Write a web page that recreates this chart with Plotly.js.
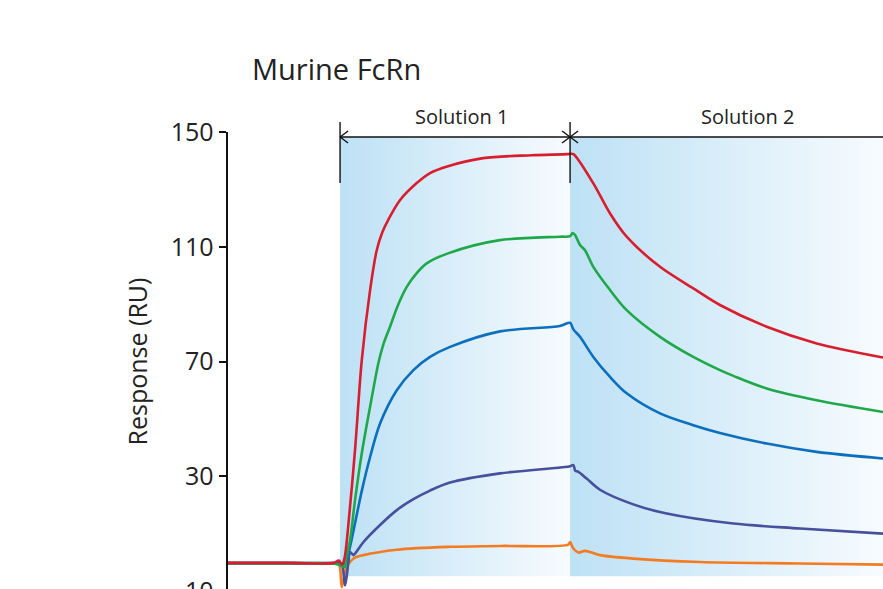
<!DOCTYPE html>
<html><head><meta charset="utf-8">
<script src="https://cdn.plot.ly/plotly-3.0.1.min.js"></script>
<style>html,body{margin:0;padding:0;overflow:hidden;background:#fff}#chart{width:883px;height:631px}</style>
</head><body><div id="chart"></div>
<script>
// ---- data ----
const chartTitle = 'Murine FcRn';
const yTitle = 'Response (RU)';
const yTicks = [-10, 30, 70, 110, 150];
const phaseNames = ['Solution 1', 'Solution 2'];
const phaseStart = [0, 180];
const phaseEnd = [180, 425];
const phaseLabelT = [95, 318.5];

const redT = [-88, -40, -5, -1, 1.5, 3.5, 6.3, 11.7, 17, 23.5, 28.7, 33, 37.6, 47, 60, 70.4, 84.5, 112, 150, 178, 180, 182.6, 198.2, 211.3, 224.3, 250.4, 276.4, 297.3, 333.9, 373, 425];
const redY = [-0.2, -0.2, -0.2, 0.6, -0.8, 1.5, 12.2, 39.1, 70.5, 94.9, 108.8, 115, 119.3, 126.3, 132.2, 135.7, 138.1, 140.9, 141.9, 142.3, 142.4, 142.3, 132.1, 121.6, 113.5, 103.0, 95.5, 89.7, 82.1, 76.3, 71.4];

const greenT = [-88, -40, -5, 0, 3.9, 4.7, 7.8, 11.7, 17, 23.5, 30, 33.9, 39.1, 45, 52.2, 60, 67.8, 84.5, 125, 172, 180, 182, 183.9, 187.8, 191.7, 198.2, 211.3, 224.3, 250.4, 276.4, 297.3, 307.8, 333.9, 373, 425];
const greenY = [-0.3, -0.3, -0.4, -1.0, -1.6, 1.4, 7.7, 21.6, 38.0, 54.2, 69.5, 76.0, 82.1, 89.3, 96.0, 100.8, 104.2, 107.7, 112.3, 113.5, 113.7, 114.8, 114.1, 110.6, 108.8, 103.0, 94.9, 87.9, 78.6, 71.6, 67.0, 65.0, 60.6, 56.5, 52.4];

const blueT = [-88, -40, -5, -1, 1.3, 3.5, 5.2, 7.8, 11.7, 17, 23.5, 31.3, 44.4, 57.4, 70.4, 86.1, 125.2, 172.1, 180, 182.6, 187.8, 198.2, 211.3, 224.3, 250.4, 276.4, 297.3, 333.9, 373, 425];
const blueY = [-0.3, -0.3, -0.3, -0.2, -1.2, -0.5, 1.0, 5.4, 13.6, 24.9, 36.7, 48.4, 60.0, 67.0, 71.6, 75.1, 80.5, 82.4, 83.5, 81.2, 78.6, 71.6, 64.6, 58.9, 51.9, 47.8, 45.1, 41.4, 38.5, 36.2];

const purpleT = [-88, -40, -5, 1, 3.9, 6.5, 7.8, 10.4, 11.7, 18.2, 31.3, 44.4, 57.4, 70.4, 86.1, 125.2, 176, 180, 182.6, 184, 186.5, 193, 203.4, 229.5, 255.6, 307.8, 360, 425];
const purpleY = [-0.3, -0.3, -0.3, -0.5, -8.0, 0, 3.6, 2.5, 3.0, 7.0, 13.0, 18.2, 22.0, 25.0, 27.8, 31.0, 33.2, 33.5, 33.9, 32.0, 31.5, 29.2, 25.3, 20.2, 17.0, 13.5, 11.8, 10.0];

const orangeT = [-88, -40, -5.5, -1, 1.3, 4.7, 7.8, 11, 18.2, 44.4, 86.1, 125.2, 178.6, 180, 182.6, 186.5, 191.7, 203.4, 229.5, 281.7, 360, 425];
const orangeY = [-0.4, -0.4, -0.5, -0.6, -8.6, -2.1, 0.1, 1.5, 2.5, 4.4, 5.4, 5.7, 6.2, 7.1, 4.8, 3.4, 4.0, 2.5, 1.3, 0.1, -0.4, -0.8];

// ---- layout constants ----
const W = 883, H = 631;
const M = {l: 228, r: 0, t: 132, b: 40};
const plotW = W - M.l - M.r, plotH = H - M.t - M.b;
const xRange = [-87.7, 424.9];
const yRange = [-10, 150];
const shadeBottom = -4.9, shadeTop = 148.3;
const pxPerT = plotW / (xRange[1] - xRange[0]);
const pY = p => (M.t + plotH - p) / plotH;   // pixel row -> paper y

const FONT = '"Open Sans", "Noto Sans", sans-serif';

const traces = [];
// shaded phases with horizontal gradient
for (let i = 0; i < phaseNames.length; i++) {
  const a = phaseStart[i], b = phaseEnd[i];
  traces.push({
    type: 'scatter', mode: 'lines', x: [a, b, b, a, a], y: [shadeBottom, shadeBottom, shadeTop, shadeTop, shadeBottom],
    fill: 'toself', line: {width: 0}, hoverinfo: 'skip', showlegend: false,
    fillgradient: {type: 'horizontal', colorscale: [[0, '#bde1f5'], [1, '#f7fbfe']]}
  });
}
const series = [
  ['orange', orangeT, orangeY, '#f47b20'],
  ['purple', purpleT, purpleY, '#46509d'],
  ['blue', blueT, blueY, '#0b6fbe'],
  ['green', greenT, greenY, '#1fa84a'],
  ['red', redT, redY, '#d81e2e']
];
series.forEach(([n, t, y, c]) => traces.push({
  type: 'scatter', mode: 'lines', name: n, x: t, y: y,
  line: {color: c, width: 2.6, shape: 'spline', smoothing: 0.9}, showlegend: false
}));

// arrow decorations
const shapes = [];
const ln = (x0, y0, x1, y1) => shapes.push({type: 'line', xref: 'x', yref: 'paper', x0, y0, x1, y1, line: {color: '#111', width: 1.4}});
const arrowY = pY(137), vTop = pY(122), vBot = pY(183);
const cdx = 8 / pxPerT, cdy = 6 / plotH;
ln(phaseStart[0], arrowY, xRange[1] + 5, arrowY);
phaseStart.forEach(s => ln(s, vTop, s, vBot));
// left chevron at start of each phase (pointing left)
phaseStart.forEach(s => { ln(s, arrowY, s + cdx, arrowY + cdy); ln(s, arrowY, s + cdx, arrowY - cdy); });
// right chevron at end of phase 1 (pointing right)
ln(phaseEnd[0], arrowY, phaseEnd[0] - cdx, arrowY + cdy); ln(phaseEnd[0], arrowY, phaseEnd[0] - cdx, arrowY - cdy);

const annotations = phaseNames.map((n, i) => ({
  text: n, x: phaseLabelT[i], xref: 'x', y: pY(117), yref: 'paper', xanchor: 'center', yanchor: 'middle',
  showarrow: false, font: {family: FONT, size: 20, color: '#222'}
}));

const layout = {
  width: W, height: H, margin: M, paper_bgcolor: '#fff', plot_bgcolor: 'rgba(0,0,0,0)',
  showlegend: false,
  title: {text: chartTitle, x: 252 / W, xref: 'container', xanchor: 'left', y: 1 - 70 / H, yref: 'container', yanchor: 'middle',
          font: {family: FONT, size: 29, color: '#222'}},
  xaxis: {range: xRange, visible: false, showgrid: false, zeroline: false, fixedrange: true},
  yaxis: {range: yRange, tickvals: yTicks, ticks: 'outside', ticklen: 7, tickwidth: 2, tickcolor: '#111',
          showline: true, linewidth: 2.4, linecolor: '#111', showgrid: false, zeroline: false,
          tickfont: {family: FONT, size: 25, color: '#222'},
          title: {text: yTitle, font: {family: FONT, size: 25, color: '#222'}, standoff: 16}},
  shapes, annotations
};
Plotly.newPlot('chart', traces, layout, {displayModeBar: false, staticPlot: true});
</script></body></html>
